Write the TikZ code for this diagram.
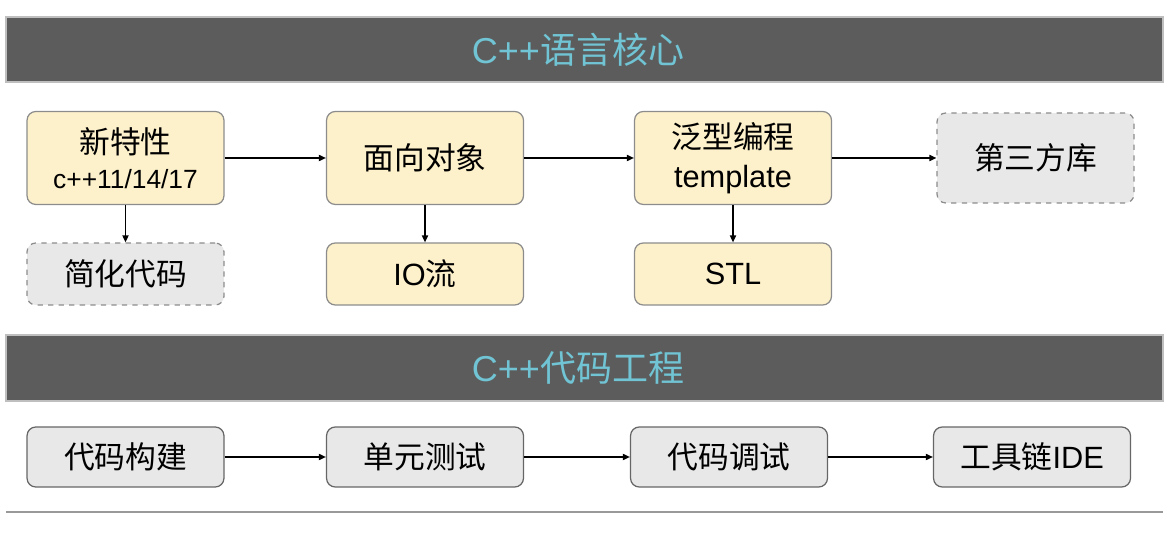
\documentclass[tikz,border=0pt]{standalone}
\usepackage{fontspec}
\setmainfont{Liberation Sans}
\newfontfamily\zh{Noto Sans CJK SC}
\usetikzlibrary{arrows.meta}
\definecolor{bandgray}{HTML}{5C5C5C}
\definecolor{bandtext}{HTML}{70C4D4}
\definecolor{boxyellow}{HTML}{FDF1CB}
\definecolor{boxgray}{HTML}{E8E8E8}
\begin{document}
\begin{tikzpicture}[x=0.02cm,y=-0.02cm,font=\fontsize{17.5}{21}\selectfont,
  band/.style={fill=bandgray, draw=black!25, line width=0.6pt},
  bandlabel/.style={text=bandtext, font=\fontsize{20.5}{24}\selectfont},
  core/.style={draw=black!45, fill=boxyellow, rounded corners=5pt, line width=0.7pt, minimum width=3.94cm, minimum height=1.86cm, align=center},
  sub/.style={core, minimum height=1.24cm},
  extra/.style={draw=black!45, fill=boxgray, rounded corners=5pt, dashed, line width=0.7pt, minimum width=3.94cm, align=center},
  tool/.style={draw=black!60, fill=boxgray, rounded corners=5pt, line width=0.7pt, minimum width=3.94cm, minimum height=1.2cm},
  link/.style={-{Triangle[length=4pt,width=3.5pt]}, line width=0.8pt}]
\useasboundingbox (0,0) rectangle (1169,536);
% language core
\fill[band] (6,17) rectangle (1163,82);
\node[bandlabel] (corehead) at (578,50) {C++{\zh 语言核心}};
\node[core] (modern) at (125.5,158) {{\zh 新特性}\\[-1pt]{\fontsize{15}{17}\selectfont c++11/14/17}};
\node[core] (oop) at (425,158) {\zh 面向对象};
\node[core] (generic) at (733,158) {{\zh 泛型编程}\\[1pt]template};
\node[extra, minimum height=1.8cm] (thirdparty) at (1035.5,158) {\zh 第三方库};
\node[extra, minimum height=1.24cm] (simplify) at (125.5,274) {\zh 简化代码};
\node[sub] (iostream) at (425,274) {IO{\zh 流}};
\node[sub] (stl) at (733,274) {STL};
\draw[link] (modern) -- (oop);
\draw[link] (oop) -- (generic);
\draw[link] (generic) -- (thirdparty);
\draw[link] (modern) -- (simplify);
\draw[link] (oop) -- (iostream);
\draw[link] (generic) -- (stl);
% code engineering
\fill[band] (6,335) rectangle (1163,401);
\node[bandlabel] (enghead) at (578,368) {C++{\zh 代码工程}};
\node[tool] (build) at (125.5,457) {\zh 代码构建};
\node[tool] (unittest) at (425,457) {\zh 单元测试};
\node[tool] (debug) at (729,457) {\zh 代码调试};
\node[tool] (ide) at (1032,457) {{\zh 工具链}IDE};
\draw[link] (build) -- (unittest);
\draw[link] (unittest) -- (debug);
\draw[link] (debug) -- (ide);
\draw[black!40, line width=1.2pt] (6,512) -- (1163,512);
\end{tikzpicture}
\end{document}
